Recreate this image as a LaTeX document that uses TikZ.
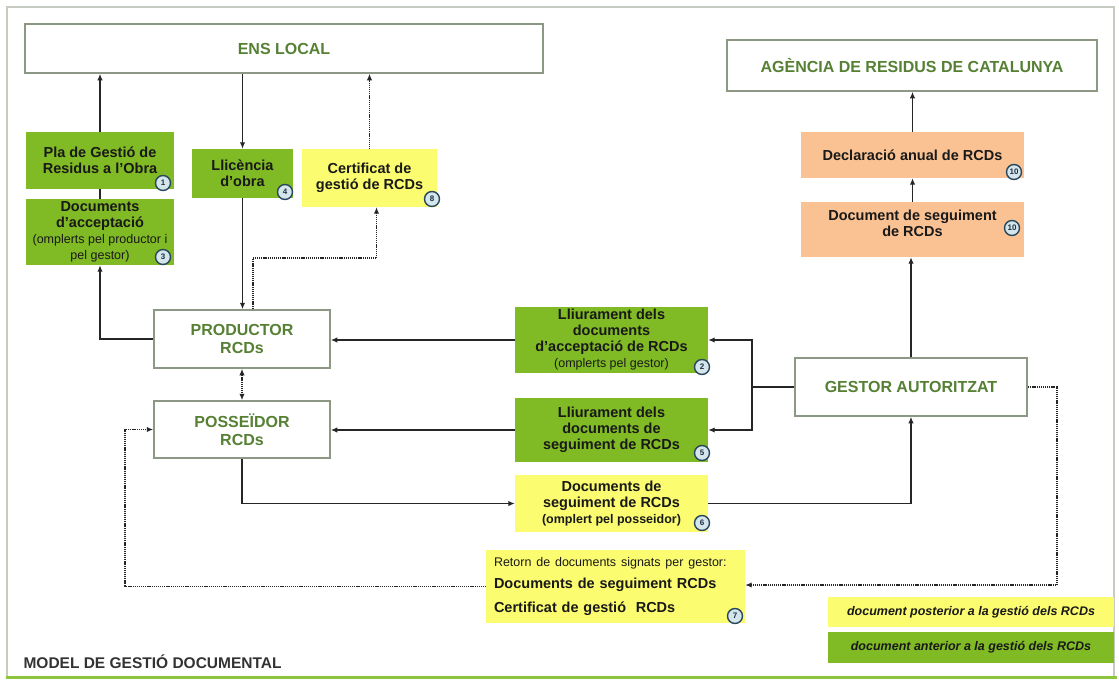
\documentclass[tikz,border=0pt]{standalone}
\usepackage{fontspec}
\setmainfont{Liberation Sans}
\usetikzlibrary{arrows.meta}

\definecolor{boxgreen}{RGB}{128,186,36}
\definecolor{boxyellow}{RGB}{252,252,112}
\definecolor{boxorange}{RGB}{250,194,146}
\definecolor{headgreen}{RGB}{86,128,52}
\definecolor{headline}{RGB}{140,152,132}
\definecolor{numblue}{RGB}{40,70,92}
\definecolor{numfill}{RGB}{212,230,236}
\definecolor{barlime}{RGB}{140,198,63}

\newcommand\smalltxt[1]{{\fontsize{12.5}{15}\selectfont\mdseries #1}}

\begin{document}
\begin{tikzpicture}[x=1pt,y=-1pt,
  head/.style={draw=headline,line width=1.5pt,fill=white,text=headgreen,inner sep=0pt,
    align=center,font=\fontsize{16}{18}\selectfont\bfseries},
  doc/.style={inner sep=0pt,align=center,text=black!90,font=\fontsize{14.5}{16}\selectfont\bfseries},
  greendoc/.style={doc,fill=boxgreen},
  yellowdoc/.style={doc,fill=boxyellow},
  orangedoc/.style={doc,fill=boxorange},
  sz/.style 2 args={minimum width=#1pt,minimum height=#2pt},
  conn/.style={draw=black!85,line width=1.3pt},
  arr/.style={conn,-{Latex[length=6.5pt,width=5.5pt]}},
  dotarr/.style={arr,line width=1.5pt,dash pattern=on 1.1pt off 0.8pt},
  num/.style={circle,draw=numblue,fill=numfill,line width=1.4pt,inner sep=0pt,
    minimum size=15pt,text=numblue!70!black,font=\fontsize{8}{8}\selectfont\bfseries}]
  \useasboundingbox (0,0) rectangle (1119,680);

  \draw[headline!50,line width=1.5pt] (7,676) -- (7,7) -- (1114,7) -- (1114,676);
  \draw[barlime,line width=3pt] (6,677) -- (1117,677);

  \node[head,sz={518}{49}] (ens) at (284,48.5) {ENS LOCAL};
  \node[head,sz={370}{51}] (agencia) at (912,65.5) {AGÈNCIA DE RESIDUS DE CATALUNYA};
  \node[head,sz={176}{58}] (prod) at (242,339) {PRODUCTOR\\RCDs};
  \node[head,sz={176}{57}] (poss) at (242,429.5) {POSSEÏDOR\\RCDs};
  \node[head,sz={232}{58}] (gestor) at (911,387) {GESTOR AUTORITZAT};

  \node[greendoc,sz={148}{57}] (pla) at (100,160.5) {Pla de Gestió de\\Residus a l'Obra};
  \node[greendoc,sz={148}{66}] (docacc) at (100,232)
    {Documents\\d'acceptació\\\smalltxt{(omplerts pel productor i}\\\smalltxt{pel gestor)}};
  \node[greendoc,sz={101}{49}] (llic) at (242.5,173.5) {Llicència\\d'obra};
  \node[yellowdoc,sz={135}{58}] (cert) at (369.5,178) {Certificat de\\gestió de RCDs};
  \node[orangedoc,sz={223}{46}] (decl) at (912.5,155) {Declaració anual de RCDs};
  \node[orangedoc,sz={223}{55}] (docseg) at (912.5,229.5) {Document de seguiment\\de RCDs\\[-4pt]\mbox{}};
  \node[greendoc,sz={193}{66}] (lliacc) at (611.5,340)
    {Lliurament dels\\documents\\d'acceptació de RCDs\\\smalltxt{(omplerts pel gestor)}};
  \node[greendoc,sz={193}{64}] (lliseg) at (611.5,430) {Lliurament dels\\documents de\\seguiment de RCDs};
  \node[yellowdoc,sz={193}{57}] (docpos) at (611.5,503.5)
    {Documents de\\seguiment de RCDs\\{\fontsize{12.5}{15}\selectfont(omplert pel posseidor)}};
  \node[yellowdoc,sz={259}{73},align=left,text width=243pt] (retorn) at (615.5,586.5)
    {\smalltxt{Retorn de documents signats per gestor:}\\[6pt]Documents de seguiment RCDs\\[8pt]Certificat de gestió\ \ RCDs};

  \node[yellowdoc,sz={286}{30},font=\fontsize{12.5}{15}\selectfont\bfseries\itshape] (legpost) at (971,612)
    {document posterior a la gestió dels RCDs};
  \node[greendoc,sz={286}{31},font=\fontsize{12.5}{15}\selectfont\bfseries\itshape] (legant) at (971,647.5)
    {document anterior a la gestió dels RCDs};
  \node[anchor=west,text=black!80,font=\fontsize{15.5}{18}\selectfont\bfseries] (titol) at (20,662)
    {MODEL DE GESTIÓ DOCUMENTAL};

  \foreach \x/\y/\n [count=\i] in {163/183/1, 163/257/3, 285/192/4, 432/199/8, 1014/172/10,
      1012/228/10, 702/367/2, 702/453/5, 702/523/6, 735/616/7}
    \node[num] (num\i) at (\x,\y) {\n};

  \coordinate (cbend) at (253,258);
  \coordinate (fork) at (752,387);
  \coordinate (rcol) at (1057,585);
  \coordinate (lcol) at (125,586);

  \draw[arr] (pla.north) -- (pla.north |- ens.south);
  \draw[conn] (docacc.north) -- (pla.south);
  \draw[arr] (prod.west) -| (docacc.south);
  \draw[arr] (llic.north |- ens.south) -- (llic.north);
  \draw[arr] (llic.south) -- (llic.south |- prod.north);
  \draw[dotarr] (cert.north) -- (cert.north |- ens.south);
  \draw[dotarr] (prod.north -| cbend) -- (cbend) -| ([xshift=7pt]cert.south);
  \draw[dotarr,{Latex[length=6.5pt,width=5.5pt]}-{Latex[length=6.5pt,width=5.5pt]}] (prod.south) -- (poss.north);
  \draw[arr] (lliacc.west) -- (lliacc.west -| prod.east);
  \draw[arr] (lliseg.west) -- (lliseg.west -| poss.east);
  \draw[conn] (gestor.west) -- (fork);
  \draw[arr] (fork) |- (lliacc.east);
  \draw[arr] (fork) |- (lliseg.east);
  \draw[arr] (poss.south) |- (docpos.west);
  \draw[arr] (docpos.east) -| (gestor.south);
  \draw[arr] (gestor.north) -- (gestor.north |- docseg.south);
  \draw[arr] (docseg.north) -- (decl.south);
  \draw[arr] (decl.north) -- (decl.north |- agencia.south);
  \draw[dotarr] (gestor.east) -| (rcol) -- (rcol -| retorn.east);
  \draw[dotarr] (retorn.west) -| (lcol) |- (poss.west);
\end{tikzpicture}
\end{document}
